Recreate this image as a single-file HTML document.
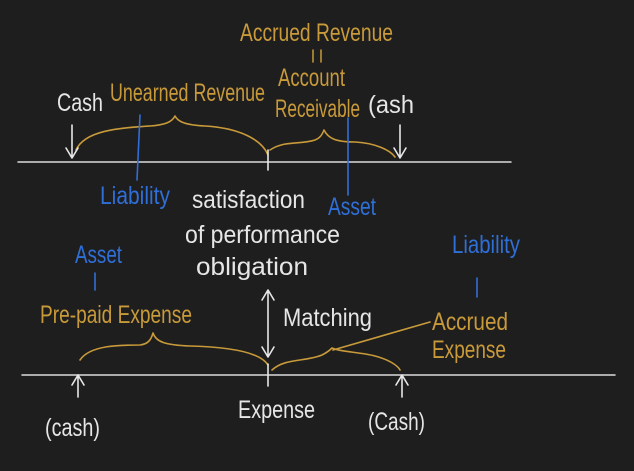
<!DOCTYPE html>
<html><head><meta charset="utf-8"><style>
html,body{margin:0;padding:0;background:#1e1e1e;}
svg{display:block}
text{font-family:"Liberation Sans",sans-serif;}
.w{fill:#e6e6e6}.g{fill:#c89a3a}.b{fill:#2f6fd8}
</style></head><body>
<svg width="634" height="471" viewBox="0 0 634 471" xmlns="http://www.w3.org/2000/svg">
<rect width="634" height="471" fill="#1e1e1e"/>
<g fill="none" stroke-linecap="round" stroke-linejoin="round">
<line x1="18" y1="162" x2="511" y2="162" stroke="#dcdcdc" stroke-width="1.5"/>
<line x1="22" y1="375" x2="615" y2="375" stroke="#dcdcdc" stroke-width="1.5"/>
<g stroke="#c89a3a" stroke-width="1.6">
<path d="M76 150 C85 130,120 128,150 126 C165 125,172 122,175 116 C178 122,186 125,205 126 C240 128,262 140,268 155"/>
<path d="M270 150 C285 140,300 145,315 140 C320 138,322 135,324 130 C328 138,335 142,355 142 C375 143,390 150,395 157"/>
<path d="M80 360 C90 345,120 345,140 345 C148 344,151 340,153 333 C156 342,165 345,190 346 C230 347,260 352,268 365"/>
<path d="M272 370 C285 358,305 362,322 355 C328 352,330 350,332 348 C340 352,360 352,375 356 C390 360,398 366,400 370"/>
<path d="M333 350 L430 322"/>
</g>
<g stroke="#e6e6e6" stroke-width="1.6">
<path d="M72 125 L72 157 M66 148 L72 158 L78 148"/>
<path d="M400 125 L400 157 M394 148 L400 158 L406 148"/>
<line x1="268" y1="150" x2="268" y2="170"/>
<line x1="268" y1="364" x2="268" y2="386"/>
<path d="M268 292 L268 355 M262 300 L268 290 L274 300 M262 347 L268 357 L274 347"/>
<path d="M78 397 L78 376 M72 385 L78 375 L84 385"/>
<path d="M402 397 L402 376 M396 385 L402 375 L408 385"/>
</g>
<g stroke="#2f6fd8" stroke-width="1.6">
<line x1="140" y1="115" x2="137" y2="180"/>
<line x1="348" y1="118" x2="348" y2="195"/>
<line x1="95" y1="273" x2="95" y2="290"/>
<line x1="477" y1="278" x2="477" y2="297"/>
</g>
<g stroke="#c89a3a" stroke-width="1.5"><line x1="313" y1="50" x2="313" y2="62"/><line x1="321" y1="50" x2="321" y2="62"/></g>
</g>
<g font-size="25">
<text class="g" x="240" y="41" textLength="153" lengthAdjust="spacingAndGlyphs">Accrued Revenue</text>
<text class="g" x="278" y="86" textLength="67" lengthAdjust="spacingAndGlyphs">Account</text>
<text class="g" x="275" y="117" textLength="85" lengthAdjust="spacingAndGlyphs">Receivable</text>
<text class="w" x="57" y="111" textLength="46" lengthAdjust="spacingAndGlyphs">Cash</text>
<text class="w" x="368" y="113" textLength="46" lengthAdjust="spacingAndGlyphs">(ash</text>
<text class="g" x="110" y="101" textLength="155" lengthAdjust="spacingAndGlyphs">Unearned Revenue</text>
<text class="b" x="100" y="204" textLength="70" lengthAdjust="spacingAndGlyphs">Liability</text>
<text class="b" x="328" y="215" textLength="48" lengthAdjust="spacingAndGlyphs">Asset</text>
<text class="w" x="192" y="208" textLength="113" lengthAdjust="spacingAndGlyphs">satisfaction</text>
<text class="w" x="185" y="243" textLength="155" lengthAdjust="spacingAndGlyphs">of performance</text>
<text class="w" x="196" y="275" textLength="112" lengthAdjust="spacingAndGlyphs">obligation</text>
<text class="b" x="75" y="263" textLength="47" lengthAdjust="spacingAndGlyphs">Asset</text>
<text class="b" x="452" y="253" textLength="68" lengthAdjust="spacingAndGlyphs">Liability</text>
<text class="g" x="40" y="323" textLength="152" lengthAdjust="spacingAndGlyphs">Pre-paid Expense</text>
<text class="w" x="283" y="326" textLength="89" lengthAdjust="spacingAndGlyphs">Matching</text>
<text class="g" x="432" y="330" textLength="76" lengthAdjust="spacingAndGlyphs">Accrued</text>
<text class="g" x="432" y="358" textLength="74" lengthAdjust="spacingAndGlyphs">Expense</text>
<text class="w" x="45" y="436" textLength="55" lengthAdjust="spacingAndGlyphs">(cash)</text>
<text class="w" x="238" y="418" textLength="77" lengthAdjust="spacingAndGlyphs">Expense</text>
<text class="w" x="368" y="430" textLength="57" lengthAdjust="spacingAndGlyphs">(Cash)</text>
</g>
</svg>
</body></html>
